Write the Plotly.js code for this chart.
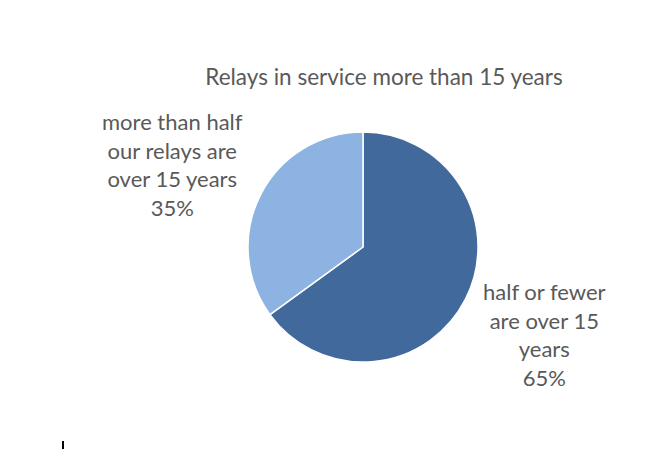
<!DOCTYPE html>
<html><head><meta charset="utf-8">
<script src="https://cdn.plot.ly/plotly-3.0.1.min.js"></script>
<style>html,body{margin:0;padding:0;background:#fff}#chart{width:662px;height:450px}</style>
</head><body><div id="chart"></div>
<script>
const chartTitle = "Relays in service more than 15 years";
const categories = ["half or fewer are over 15 years", "more than half our relays are over 15 years"];
const labelLines = [["half or fewer", "are over 15", "years"], ["more than half", "our relays are", "over 15 years"]];
const values = [65, 35];
const colors = ["#41699C", "#8DB3E2"];

const total = values.reduce((a, b) => a + b, 0);
const pct = values.map(v => Math.round(v / total * 100) + "%");
const font = "Lato, 'Open Sans', sans-serif";

const trace = {
  type: "pie",
  labels: categories,
  values: values,
  sort: false,
  direction: "clockwise",
  rotation: 0,
  textinfo: "none",
  hoverinfo: "label+percent",
  marker: {colors: colors, line: {color: "#ffffff", width: 1.5}},
  domain: {x: [248/662, 478/662], y: [88/450, 318/450]},
  showlegend: false
};

const annotations = [
  {x: 544/662, y: 1 - 334/450, text: labelLines[0].concat([pct[0]]).join("<br>")},
  {x: 172/662, y: 1 - 164/450, text: labelLines[1].concat([pct[1]]).join("<br>")}
].map(a => Object.assign({xref: "paper", yref: "paper", showarrow: false, align: "center",
  xanchor: "center", yanchor: "middle", font: {family: font, size: 22, color: "#595959"}}, a));

const layout = {
  width: 662, height: 450,
  margin: {l: 0, r: 0, t: 0, b: 0},
  paper_bgcolor: "#ffffff",
  title: {text: chartTitle, x: 384/662, xanchor: "center", y: 1 - 77/450, yanchor: "middle",
    font: {family: font, size: 22.5, color: "#595959"}},
  annotations: annotations,
  shapes: [{type: "line", xref: "paper", yref: "paper", x0: 63/662, x1: 63/662, y0: 1 - 441/450, y1: 1 - 449/450,
    line: {color: "#000000", width: 2}}]
};

Plotly.newPlot("chart", [trace], layout, {displayModeBar: false, staticPlot: true});
</script></body></html>
